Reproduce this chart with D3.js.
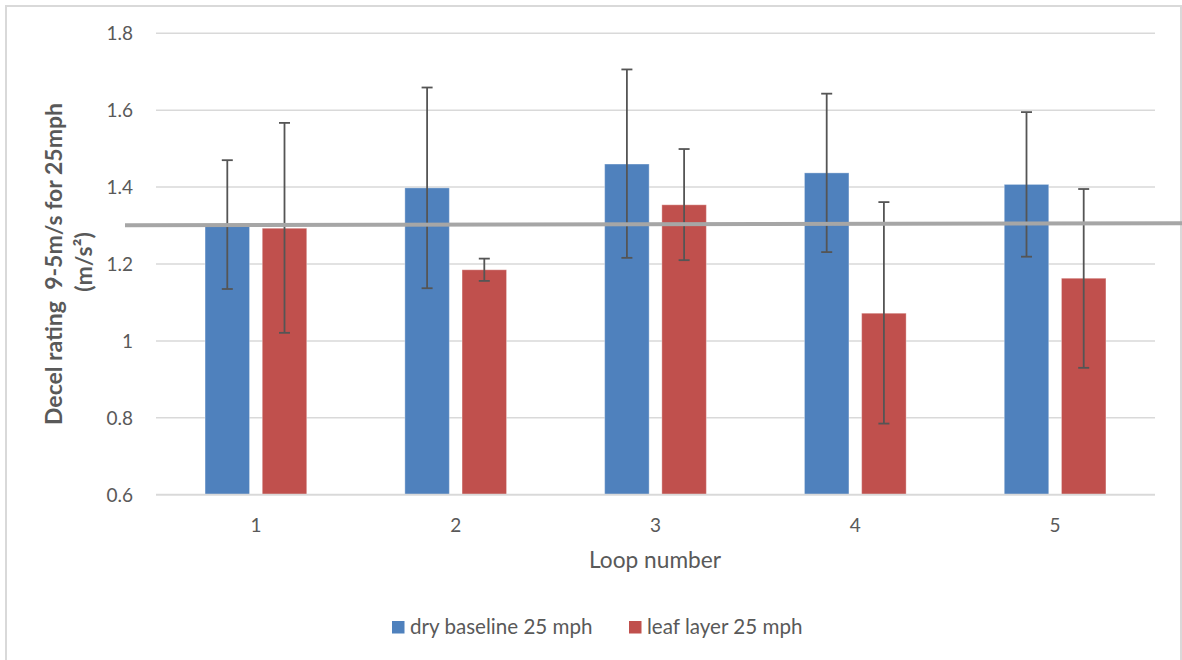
<!DOCTYPE html>
<html>
<head>
<meta charset="utf-8">
<script src="https://cdn.jsdelivr.net/npm/d3@7"></script>
<style>
  html, body { margin: 0; padding: 0; background: #fff; }
  svg { display: block; font-family: Lato, "Open Sans", sans-serif; }
</style>
</head>
<body>
<svg id="chart" width="1182" height="660"></svg>
<script>
// ---- data ----
const loops = ["1", "2", "3", "4", "5"];
const seriesNames = ["dry baseline 25 mph", "leaf layer 25 mph"];
const dryValues  = [1.300, 1.398, 1.460, 1.437, 1.407];
const dryErrHigh = [1.470, 1.659, 1.706, 1.643, 1.595];
const dryErrLow  = [1.135, 1.137, 1.216, 1.231, 1.219];
const leafValues  = [1.293, 1.185, 1.354, 1.072, 1.163];
const leafErrHigh = [1.567, 1.214, 1.499, 1.361, 1.395];
const leafErrLow  = [1.021, 1.156, 1.210, 0.785, 0.930];
const yTicks = [0.6, 0.8, 1.0, 1.2, 1.4, 1.6, 1.8];
const yTickLabels = ["0.6", "0.8", "1", "1.2", "1.4", "1.6", "1.8"];
const thresholdLine = [1.301, 1.306]; // start, end value of the grey reference line
const colors = ["#4f81bd", "#c0504d"];

const seriesData = [
  { name: seriesNames[0], values: dryValues, hi: dryErrHigh, lo: dryErrLow, color: colors[0] },
  { name: seriesNames[1], values: leafValues, hi: leafErrHigh, lo: leafErrLow, color: colors[1] }
];

// ---- layout ----
const W = 1182, H = 660;
const plot = { left: 156, right: 1155, top: 33.3, bottom: 494.7 };
const svg = d3.select("#chart");
const textColor = "#595959";

// border
svg.append("rect")
  .attr("x", 6).attr("y", 6).attr("width", 1175).attr("height", 680)
  .attr("fill", "none").attr("stroke", "#d9d9d9").attr("stroke-width", 2);

const y = d3.scaleLinear().domain([0.6, 1.8]).range([plot.bottom, plot.top]);
const x0 = d3.scaleBand().domain(loops).range([plot.left, plot.right]).padding(0);
const bw = x0.bandwidth();
const x1 = d3.scaleBand().domain(seriesNames)
  .range([bw / 2 - 50.85, bw / 2 + 50.85]).paddingInner(0.222).paddingOuter(0);

// gridlines
svg.append("g").selectAll("line").data(yTicks).join("line")
  .attr("x1", plot.left).attr("x2", plot.right)
  .attr("y1", d => y(d)).attr("y2", d => y(d))
  .attr("stroke", "#d9d9d9").attr("stroke-width", 1.5);

// y tick labels
svg.append("g").selectAll("text").data(yTicks).join("text")
  .attr("x", 133).attr("y", d => y(d)).attr("dy", "0.36em")
  .attr("text-anchor", "end").attr("fill", textColor)
  .attr("font-size", 19)
  .text((d, i) => yTickLabels[i]);

// bars
const groups = svg.append("g").selectAll("g").data(loops).join("g")
  .attr("transform", d => `translate(${x0(d)},0)`);

seriesData.forEach(s => {
  groups.append("rect")
    .attr("x", x1(s.name))
    .attr("width", x1.bandwidth())
    .attr("y", (d, i) => y(s.values[i]))
    .attr("height", (d, i) => y(0.6) - y(s.values[i]))
    .attr("fill", s.color)
    .attr("stroke", "#ffffff").attr("stroke-opacity", 0.35).attr("stroke-width", 1);
});

// x axis baseline
svg.append("line")
  .attr("x1", plot.left).attr("x2", plot.right)
  .attr("y1", y(0.6)).attr("y2", y(0.6))
  .attr("stroke", "#d9d9d9").attr("stroke-width", 1.8);

// threshold line
svg.append("line")
  .attr("x1", 125).attr("x2", W)
  .attr("y1", y(thresholdLine[0])).attr("y2", y(thresholdLine[1]))
  .attr("stroke", "#a6a6a6").attr("stroke-width", 4);

// error bars
const errColor = "#555555";
seriesData.forEach(s => {
  const cx = x1(s.name) + x1.bandwidth() / 2;
  groups.append("line")
    .attr("x1", cx).attr("x2", cx)
    .attr("y1", (d, i) => y(s.hi[i])).attr("y2", (d, i) => y(s.lo[i]))
    .attr("stroke", errColor).attr("stroke-width", 1.8);
  groups.append("line")
    .attr("x1", cx - 5.5).attr("x2", cx + 5.5)
    .attr("y1", (d, i) => y(s.hi[i])).attr("y2", (d, i) => y(s.hi[i]))
    .attr("stroke", errColor).attr("stroke-width", 1.8);
  groups.append("line")
    .attr("x1", cx - 5.5).attr("x2", cx + 5.5)
    .attr("y1", (d, i) => y(s.lo[i])).attr("y2", (d, i) => y(s.lo[i]))
    .attr("stroke", errColor).attr("stroke-width", 1.8);
});

// x tick labels
svg.append("g").selectAll("text").data(loops).join("text")
  .attr("x", d => x0(d) + bw / 2).attr("y", 532)
  .attr("text-anchor", "middle").attr("fill", textColor)
  .attr("font-size", 19)
  .text(d => d);

// x axis title
svg.append("text")
  .attr("x", 655).attr("y", 568)
  .attr("text-anchor", "middle").attr("fill", textColor)
  .attr("font-size", 22.7)
  .text("Loop number");

// y axis title
const yt = svg.append("text")
  .attr("transform", "translate(62,264) rotate(-90)")
  .attr("text-anchor", "middle").attr("fill", textColor)
  .attr("font-size", 23).attr("font-weight", "bold");
yt.append("tspan").attr("x", 0).attr("y", 0).text("Decel rating\u00a0 9-5m/s for 25mph");
yt.append("tspan").attr("x", 2).attr("y", 30).text("(m/s\u00b2)");

// legend
const legendPos = [392, 629];
seriesData.forEach((s, i) => {
  svg.append("rect")
    .attr("x", legendPos[i]).attr("y", 621).attr("width", 12.5).attr("height", 12.5)
    .attr("fill", s.color);
  svg.append("text")
    .attr("x", legendPos[i] + 18).attr("y", 633.5)
    .attr("fill", textColor).attr("font-size", 20.6)
    .text(s.name);
});
</script>
</body>
</html>
